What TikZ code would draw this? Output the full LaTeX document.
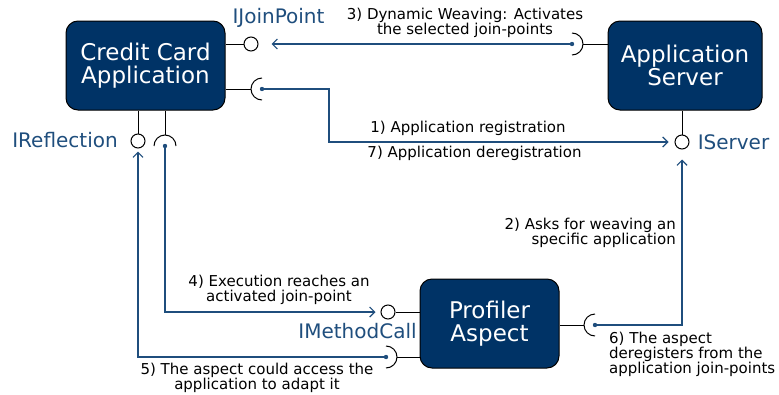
\documentclass[tikz,border=0pt]{standalone}
\usepackage{fontspec}
\setmainfont{DejaVu Sans}
\usetikzlibrary{arrows.meta}
\definecolor{boxblue}{RGB}{0,51,102}
\definecolor{linkblue}{RGB}{31,78,125}
\begin{document}
\begin{tikzpicture}[x=1pt,y=-1pt,
	comp/.style={draw=black, fill=boxblue, text=white, rounded corners=12pt, minimum height=89pt, align=center, line width=1pt, font=\fontsize{23}{23}\selectfont},
	ball/.style={circle, draw=black, fill=white, minimum size=14pt, inner sep=0pt, line width=1pt},
	iface/.style={text=linkblue, inner sep=0pt, font=\fontsize{20}{20}\selectfont},
	msg/.style={align=center, inner sep=0pt, font=\fontsize{15}{15}\selectfont},
	flow/.style={draw=linkblue, line width=1.2pt, -{Straight Barb[length=5pt,width=10pt]}}]
	\useasboundingbox (0,0) rectangle (779,394);
	% components
	\node[comp, minimum width=159pt] (cca) at (145.5,65.5) {Credit Card\\Application};
	\node[comp, minimum width=154pt] (srv) at (685,65.5) {Application\\Server};
	\node[comp, minimum width=139pt] (prof) at (489.5,323.5) {Profiler\\Aspect};
	
	% provided interfaces
	\node[ball] (ijp) at (251,44) {}; \draw[line width=1pt] (ijp) -- (cca.east |- ijp);
	\node[ball] (isrv) at (682,142) {}; \draw[line width=1pt] (isrv) -- (isrv |- srv.south);
	\node[ball] (irefl) at (138,141) {}; \draw[line width=1pt] (irefl) -- (irefl |- cca.south);
	\node[ball] (imc) at (388,312) {}; \draw[line width=1pt] (imc) -- (imc -| prof.west);
	\node[iface] (lijp) at (278.5,18) {IJoinPoint};
	\node[iface] (lisrv) at (733.5,142) {IServer};
	\node[iface] (lirefl) at (65,140) {IReflection};
	\node[iface] (limc) at (357.5,331) {IMethodCall};
	
	% required interfaces
	\coordinate (sckA) at (262,89);
	\coordinate (sckB) at (165,146);
	\coordinate (sckC) at (572,44);
	\coordinate (sckD) at (386,357);
	\coordinate (sckE) at (595,325);
	\draw[line width=1pt] (sckA) ++(0,-11) arc[start angle=90, end angle=270, radius=11pt];
	\draw[line width=1pt] (sckA) ++(-11,0) -- (cca.east |- sckA);
	\draw[line width=1pt] (sckB) ++(11,0) arc[start angle=0, end angle=180, radius=11pt];
	\draw[line width=1pt] (sckB) ++(0,-11) -- (sckB |- cca.south);
	\draw[line width=1pt] (sckC) ++(0,-11) arc[start angle=90, end angle=-90, radius=11pt];
	\draw[line width=1pt] (sckC) ++(11,0) -- (srv.west |- sckC);
	\draw[line width=1pt] (sckD) ++(0,-11) arc[start angle=90, end angle=-90, radius=11pt];
	\draw[line width=1pt] (sckD) ++(11,0) -- (prof.west |- sckD);
	\draw[line width=1pt] (sckE) ++(0,-11) arc[start angle=90, end angle=270, radius=11pt];
	\draw[line width=1pt] (sckE) ++(-11,0) -- (prof.east |- sckE);
	\foreach \s in {sckA,sckB,sckC,sckD,sckE}
		\fill[linkblue] (\s) circle[radius=2.2pt];
	
	% interactions
	\draw[flow] (sckC) -- ([xshift=13pt]ijp.east);
	\draw[flow] (sckA) -| (329,142) -- ([xshift=-6pt]isrv.west);
	\draw[flow] (sckE) -| ([yshift=-10pt]isrv.south);
	\draw[flow] (sckB) |- ([xshift=-5pt]imc.west);
	\draw[flow] (sckD) -| ([yshift=-3pt]irefl.south);
	\node[msg] (m3) at (465,22.5) {3) Dynamic Weaving: Activates\\the selected join-points};
	\node[msg] (m1) at (468,128) {1) Application registration};
	\node[msg] (m7) at (474.5,153) {7) Application deregistration};
	\node[msg, align=right, anchor=east] (m2) at (676,232.5) {2) Asks for weaving an\\specific application};
	\node[msg] (m4) at (279,290) {4) Execution reaches an\\activated join-point};
	\node[msg] (m5) at (257,378) {5) The aspect could access the\\application to adapt it};
	\node[msg, align=left, anchor=west] (m6) at (609,354) {6) The aspect\\deregisters from the\\application join-points};
\end{tikzpicture}
\end{document}
